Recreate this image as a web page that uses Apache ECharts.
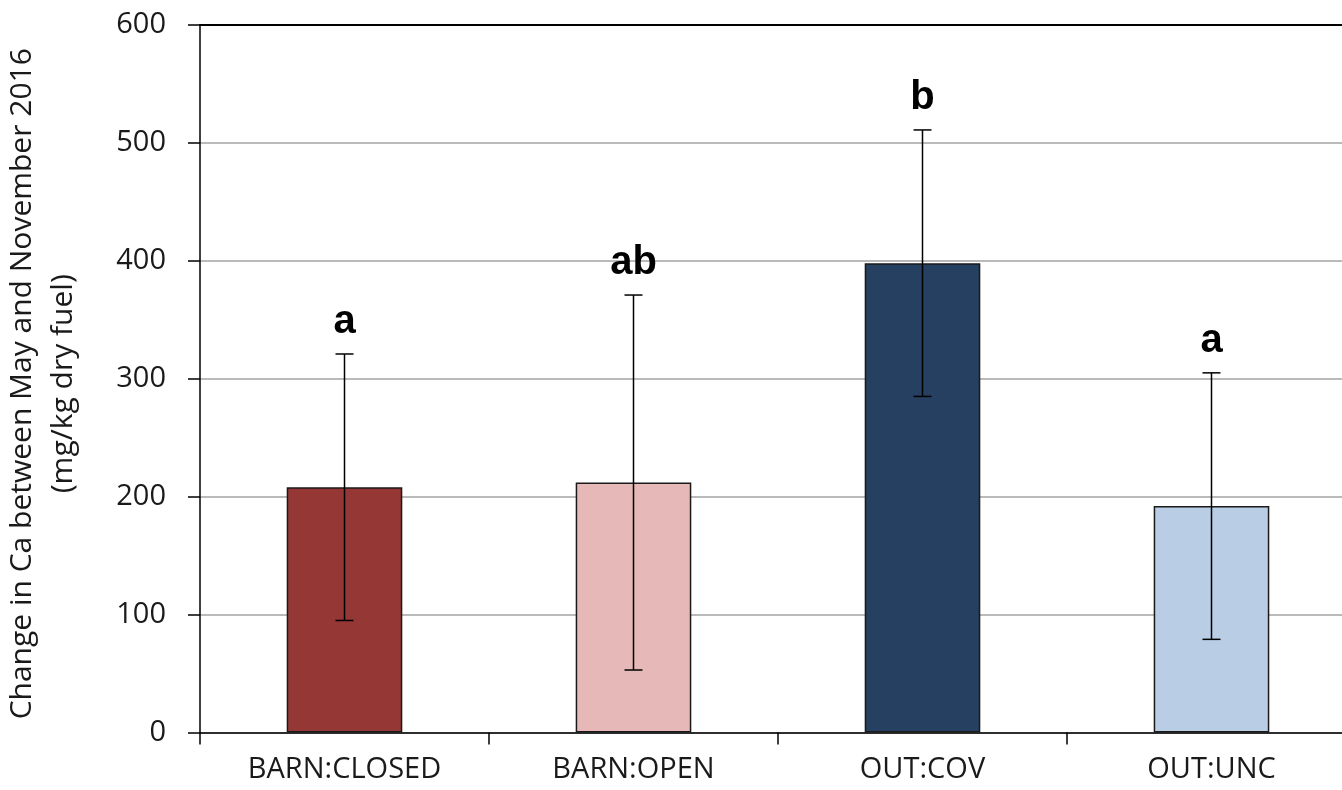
<!DOCTYPE html>
<html>
<head>
<meta charset="utf-8">
<script src="https://cdn.jsdelivr.net/npm/echarts@6/dist/echarts.min.js"></script>
<style>
  html, body { margin: 0; padding: 0; background: #ffffff; }
  #chart { width: 1342px; height: 790px; }
</style>
</head>
<body>
<div id="chart"></div>
<script>
// Treatment groups and mean change in Ca (mg/kg dry fuel) with error half-widths
const categories = ['BARN:CLOSED', 'BARN:OPEN', 'OUT:COV', 'OUT:UNC'];
const meanChange = [208, 212, 398, 192];
const errorHalf = [113, 159, 113, 113];
const groupLetters = ['a', 'ab', 'b', 'a'];
const barColors = ['#953735', '#E6B9B8', '#254061', '#B9CDE5'];
const yTicks = [0, 100, 200, 300, 400, 500, 600];

const chart = echarts.init(document.getElementById('chart'), null, { renderer: 'canvas' });

const barData = meanChange.map((v, i) => ({
  value: v,
  itemStyle: { color: barColors[i] }
}));

const errData = meanChange.map((v, i) => [i, v - errorHalf[i], v + errorHalf[i], groupLetters[i]]);

const baseFont = '"Open Sans", "Noto Sans", sans-serif';

chart.setOption({
  animation: false,
  backgroundColor: '#ffffff',
  grid: {
    left: 200, top: 25, bottom: 57.5, width: 1156,
    containLabel: false,
    outerBoundsMode: 'none'
  },
  xAxis: [{
    type: 'category',
    data: categories,
    boundaryGap: true,
    axisLine: { show: true, lineStyle: { color: '#000000', width: 1.5 } },
    axisTick: { show: true, alignWithLabel: false, length: 12, lineStyle: { color: '#000000', width: 1.5 } },
    axisLabel: { margin: 23, fontSize: 29, color: '#1a1a1a', fontFamily: baseFont },
    splitLine: { show: false }
  }, {
    type: 'category',
    data: categories,
    position: 'top',
    axisLine: { show: true, lineStyle: { color: '#000000', width: 2 } },
    axisTick: { show: false },
    axisLabel: { show: false }
  }],
  yAxis: {
    type: 'value',
    min: yTicks[0],
    max: yTicks[yTicks.length - 1],
    interval: yTicks[1] - yTicks[0],
    name: 'Change in Ca between May and November 2016\n(mg/kg dry fuel)',
    nameLocation: 'middle',
    nameRotate: 90,
    nameGap: 116,
    nameTextStyle: {
      fontSize: 30, lineHeight: 41, color: '#1a1a1a', fontFamily: baseFont,
      align: 'center', padding: [0, 10, 0, 0]
    },
    axisLine: { show: true, lineStyle: { color: '#000000', width: 1.5 } },
    axisTick: { show: true, length: 12, lineStyle: { color: '#000000', width: 1.5 } },
    axisLabel: { margin: 34, fontSize: 29, color: '#1a1a1a', fontFamily: baseFont },
    splitLine: { show: true, lineStyle: { color: '#a3a3a3', width: 1.5 } }
  },
  series: [{
    type: 'bar',
    data: barData,
    barWidth: '40%',
    itemStyle: { borderColor: '#1a1a1a', borderWidth: 1.5 },
    z: 2
  }, {
    type: 'custom',
    data: errData,
    z: 3,
    renderItem: function (params, api) {
      const x = api.coord([api.value(0), 0])[0];
      const lo = api.coord([api.value(0), api.value(1)])[1];
      const hi = api.coord([api.value(0), api.value(2)])[1];
      const cap = 9;
      const line = { stroke: '#000000', lineWidth: 1.5 };
      return {
        type: 'group',
        children: [
          { type: 'line', shape: { x1: x, y1: hi, x2: x, y2: lo }, style: line },
          { type: 'line', shape: { x1: x - cap, y1: hi, x2: x + cap, y2: hi }, style: line },
          { type: 'line', shape: { x1: x - cap, y1: lo, x2: x + cap, y2: lo }, style: line },
          {
            type: 'text',
            x: x,
            y: hi - 12,
            style: {
              text: api.value(3),
              fill: '#000000',
              font: 'bold 40px "Liberation Sans", Arial, sans-serif',
              textAlign: 'center',
              textVerticalAlign: 'bottom'
            }
          }
        ]
      };
    },
    encode: { x: 0, y: [1, 2] }
  }]
});
</script>
</body>
</html>
